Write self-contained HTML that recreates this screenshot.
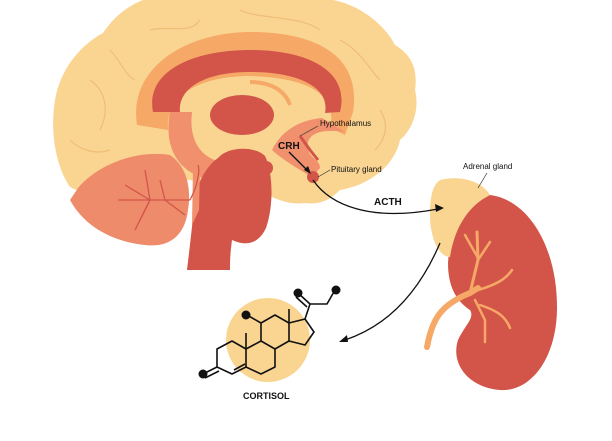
<!DOCTYPE html>
<html><head><meta charset="utf-8"><style>
html,body{margin:0;padding:0;background:#fff;width:612px;height:441px;overflow:hidden}
svg{display:block}
text{font-family:"Liberation Sans",sans-serif;fill:#111}
</style></head><body>
<svg width="612" height="441" viewBox="0 0 612 441" xmlns="http://www.w3.org/2000/svg">
<rect width="612" height="441" fill="#fff"/>
<!-- brain outer -->
<path d="M103,33 C115,15 130,5 143,0 L333,0 C360,5 385,25 395,45 C412,55 418,70 415,90 C420,110 412,130 400,140 C395,165 370,185 340,190 C330,200 320,205 305,203 C290,205 278,200 268,195 L225,190 L190,180 L140,175 L85,192 C75,190 72,188 70,187 C55,165 50,130 55,100 C60,70 80,45 103,33 Z" fill="#FAD592"/>
<!-- gyri lines -->
<g fill="none" stroke="#EDB870" stroke-width="1.2" opacity="0.8">
<path d="M150,30 C170,25 190,35 200,20"/><path d="M240,10 C260,20 300,15 320,30"/><path d="M340,40 C360,50 370,70 380,80"/>
<path d="M90,80 C105,90 110,110 100,130"/><path d="M70,140 C80,150 95,155 110,150"/><path d="M380,110 C390,125 385,140 375,150"/>
<path d="M110,50 C120,60 125,75 135,80"/>
</g>
<!-- corpus callosum orange band -->
<path d="M137,125 C128,65 190,32 250,32 C315,32 362,55 353,112 L345,135 L330,128 C338,95 310,78 250,76 C200,76 165,95 168,130 Z" fill="#F6A866"/>
<!-- red arc -->
<path d="M153,112 C145,70 195,50 250,50 C310,50 350,72 340,112 L325,113 C330,88 300,72 250,72 C205,72 178,88 180,112 Z" fill="#D3554A"/>
<path d="M250,82 C270,82 285,90 290,105" fill="none" stroke="#F6A866" stroke-width="4"/>
<!-- thalamus -->
<ellipse cx="242" cy="115" rx="32" ry="20" fill="#D3554A"/>
<!-- fornix salmon C -->
<path d="M170,112 C162,155 185,182 230,182 L264,180 L264,163 L232,163 C205,163 188,145 192,112 Z" fill="#F0906C"/>
<!-- hypothalamus -->
<path d="M272,150 C282,130 300,120 322,118 L345,132 C318,128 305,135 308,150 C312,160 320,160 320,168 L312,177 C300,170 283,160 272,150 Z" fill="#F0906C"/>
<path d="M300,136 L310,150 L318,160" fill="none" stroke="#D3554A" stroke-width="3"/>
<!-- brainstem -->
<path d="M218,158 C228,146 255,146 265,156 C273,172 274,205 266,228 C258,245 245,246 232,240 C230,255 230,262 230,270 L187,270 C190,245 193,220 195,195 C200,178 208,165 218,158 Z" fill="#D3554A"/>
<path d="M193,168 L200,168 L199,210 L192,225 Z" fill="#F0906C"/>
<circle cx="266" cy="168" r="7" fill="#D3554A"/>
<circle cx="313" cy="177" r="6" fill="#D3554A"/>
<!-- cerebellum -->
<path d="M78,188 C100,162 140,150 170,155 C185,165 192,185 188,210 C185,235 170,248 145,245 C115,242 85,228 70,200 Z" fill="#EE8B6B"/>
<g fill="none" stroke="#D3554A" stroke-width="1.3">
<path d="M118,200 L190,200"/><path d="M145,170 L150,200 L140,220"/><path d="M125,185 L150,200"/><path d="M160,180 L165,200 L185,215"/><path d="M150,200 L135,230"/><path d="M190,200 C198,185 200,170 198,165"/>
</g>
<!-- CRH arrow -->
<path d="M289,152 L309,172" stroke="#111" stroke-width="1.3"/>
<path d="M311,174 L304,170 L308,166 Z" fill="#111"/>
<path d="M300,136 L318,126" stroke="#333" stroke-width="0.7"/>
<path d="M318,177 L330,170" stroke="#333" stroke-width="0.7"/>
<!-- kidney -->
<path d="M490,195 C530,200 558,250 557,310 C556,360 530,392 500,390 C470,388 450,365 458,340 C465,325 475,318 470,310 C455,300 448,285 448,263 C450,230 465,198 490,195 Z" fill="#D3554A"/>
<path d="M440,180 C455,176 480,178 490,195 C470,205 455,225 450,257 C440,257 430,240 430,215 C430,195 433,185 440,180 Z" fill="#FAD592"/>
<g fill="none" stroke="#F6A866" stroke-linecap="round">
<path d="M427,347 C432,320 440,305 470,293 L478,288" stroke-width="6"/>
<path d="M470,293 L478,260 L477,232" stroke-width="3"/>
<path d="M478,260 L490,242" stroke-width="2.5"/>
<path d="M478,258 L465,235" stroke-width="2.5"/>
<path d="M478,290 C495,285 505,280 512,270" stroke-width="2.5"/>
<path d="M475,300 L485,320 L485,342" stroke-width="2.5"/>
<path d="M480,305 C495,310 505,315 510,328" stroke-width="2.5"/>
</g>
<path d="M478,188 L487,173" stroke="#333" stroke-width="0.7"/>
<!-- arrows -->
<path d="M313,180 C330,205 370,222 438,209" fill="none" stroke="#111" stroke-width="1.3"/>
<path d="M444,208 L435,204 L436,212 Z" fill="#111"/>
<path d="M440,243 C420,290 390,325 345,340" fill="none" stroke="#111" stroke-width="1.3"/>
<path d="M339,342 L347,335 L348,342 Z" fill="#111"/>
<!-- cortisol -->
<circle cx="268" cy="340" r="42" fill="#FAD592"/>
<g fill="none" stroke="#111" stroke-width="1.6" stroke-linejoin="round">
<path d="M217,349 L232,341 L246,349 L246,367 L232,374 L217,367 Z"/>
<path d="M246,349 L261,341 L275,349 L275,367 L261,374 L246,367"/>
<path d="M261,341 L261,323 L275,315 L289,323 L289,341 L275,349"/>
<path d="M289,323 L305,319 L314,332 L305,345 L289,341"/>
<path d="M246,349 L246,333"/><path d="M289,323 L289,309"/>
<path d="M261,323 L247,315"/>
<path d="M217,367 L203,374"/><path d="M219,371 L205,378"/>
<path d="M234,370 L245,364"/>
<path d="M305,319 L310,304 L327,304 L335,290"/>
<path d="M310,304 L298,293"/><path d="M307,307 L296,297"/>
</g>
<circle cx="246" cy="315" r="4.5" fill="#111"/>
<circle cx="203" cy="374" r="4.5" fill="#111"/>
<circle cx="298" cy="293" r="4.5" fill="#111"/>
<circle cx="336" cy="290" r="4.5" fill="#111"/>
<!-- labels -->
<text x="320" y="126" font-size="8">Hypothalamus</text>
<text x="278" y="149" font-size="10" font-weight="bold">CRH</text>
<text x="331" y="172" font-size="8">Pituitary gland</text>
<text x="374" y="205" font-size="10" font-weight="bold">ACTH</text>
<text x="463" y="169" font-size="8">Adrenal gland</text>
<text x="243" y="399" font-size="9" font-weight="bold">CORTISOL</text>
</svg>
</body></html>
